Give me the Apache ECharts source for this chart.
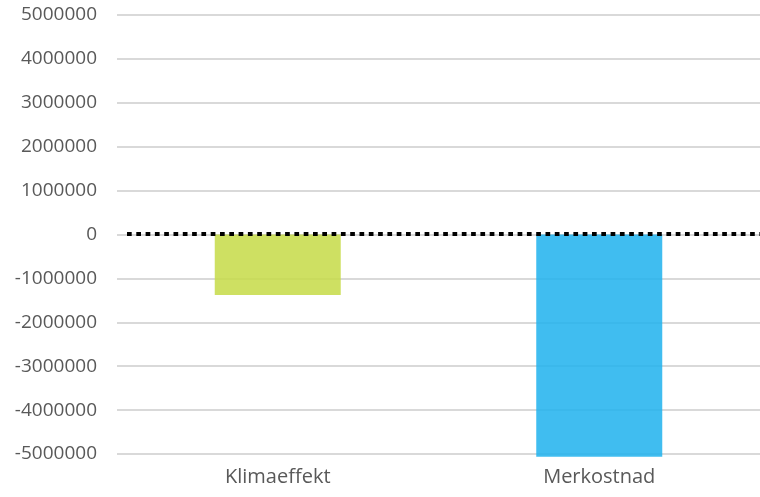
<!DOCTYPE html>
<html>
<head>
<meta charset="utf-8">
<script src="https://cdn.jsdelivr.net/npm/echarts@6/dist/echarts.min.js"></script>
<style>
  html, body { margin: 0; padding: 0; background: #ffffff; }
  #chart { width: 760px; height: 497px; }
</style>
</head>
<body>
<div id="chart"></div>
<script>
// Categories and values (NOK)
const categories = ['Klimaeffekt', 'Merkostnad'];
const values = [-1380000, -5060000];
const barColors = ['rgba(197,218,70,0.85)', 'rgba(30,178,237,0.85)'];

// Value axis range
const yMin = -5000000;
const yMax = 5000000;
const yStep = 1000000;

const chart = echarts.init(document.getElementById('chart'), null, { renderer: 'canvas' });

chart.setOption({
  animation: false,
  backgroundColor: '#ffffff',
  grid: { left: 117, width: 650, top: 15, bottom: 43, containLabel: false },
  xAxis: {
    type: 'category',
    data: categories,
    axisLine: { show: false },
    axisTick: { show: false },
    axisLabel: {
      color: '#595959',
      fontFamily: 'Open Sans',
      fontSize: 20,
      margin: 13
    }
  },
  yAxis: {
    type: 'value',
    min: yMin,
    max: yMax,
    interval: yStep,
    axisLine: { show: false },
    axisTick: { show: false },
    axisLabel: {
      color: '#595959',
      fontFamily: 'Open Sans',
      fontSize: 19,
      margin: 20,
      formatter: v => String(v)
    },
    splitLine: { lineStyle: { color: '#d9d9d9', width: 2 } }
  },
  series: [{
    type: 'bar',
    data: values.map((v, i) => ({ value: v, itemStyle: { color: barColors[i] } })),
    barWidth: 126,
    clip: false
  }]
});

// Dotted zero line, starting a little right of the plot's left edge
const zeroY = chart.convertToPixel({ yAxisIndex: 0 }, 0) - 1;
chart.setOption({
  series: [{
    markLine: {
      silent: true,
      symbol: 'none',
      label: { show: false },
      lineStyle: { color: '#000000', width: 4, type: [4.7, 4.6] },
      data: [[{ x: 127, y: zeroY }, { x: 760, y: zeroY }]]
    }
  }]
});
</script>
</body>
</html>
